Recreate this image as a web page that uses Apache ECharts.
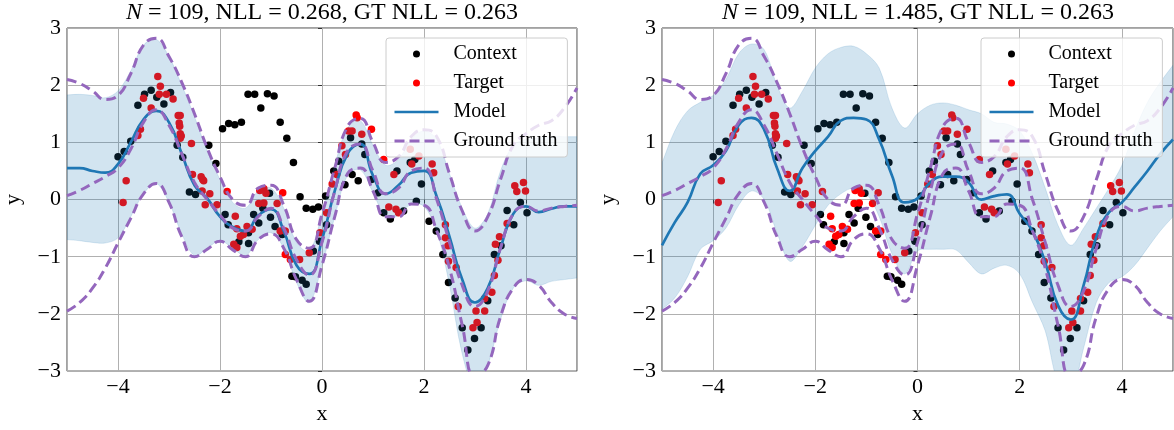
<!DOCTYPE html>
<html>
<head>
<meta charset="utf-8">
<script src="https://cdn.jsdelivr.net/npm/echarts@6/dist/echarts.min.js"></script>
<style>
  html, body { margin: 0; padding: 0; background: #fff; }
  #chart { width: 1174px; height: 430px; }
</style>
</head>
<body>
<div id="chart"></div>
<script>
const xGrid = [-5, -4.75, -4.5, -4.25, -4, -3.75, -3.5, -3.25, -3, -2.75, -2.5, -2.25, -2, -1.75, -1.5, -1.25, -1, -0.75, -0.5, -0.25,
  0, 0.25, 0.5, 0.75, 1, 1.25, 1.5, 1.75, 2, 2.25, 2.5, 2.75, 3, 3.25, 3.5, 3.75, 4, 4.25, 4.5, 4.75, 5];

// ground truth (same in both panels)
const gtMean = [0.07, 0.16, 0.28, 0.4, 0.55, 0.88, 1.35, 1.57, 1.3, 0.8, 0.3, 0.0, -0.27, -0.5, -0.55, -0.3, -0.15, -0.5, -1.05, -1.32,
  -0.75, 0.15, 0.85, 0.97, 0.5, 0.1, 0.2, 0.5, 0.55, 0.0, -0.75, -1.5, -1.87, -1.6, -0.85, -0.25, -0.12, -0.2, -0.15, -0.12, -0.1];
const gtUpper = [2.1, 2.03, 1.9, 1.75, 1.82, 2.2, 2.7, 2.82, 2.5, 2.05, 1.5, 0.9, 0.4, 0.0, -0.1, 0.2, 0.25, -0.1, -0.7, -0.85,
  -0.25, 0.55, 1.28, 1.42, 1.0, 0.65, 0.75, 1.1, 1.22, 1.1, 0.45, -0.2, -0.55, -0.3, 0.35, 0.95, 1.15, 1.3, 1.38, 1.6, 1.95];
const gtLower = [-1.95, -1.8, -1.55, -1.2, -0.76, -0.33, 0.1, 0.28, -0.05, -0.65, -1.0, -0.87, -0.73, -0.88, -1.0, -0.7, -0.6, -0.85, -1.4, -1.78,
  -1.15, -0.3, 0.45, 0.55, 0.15, -0.3, -0.3, -0.08, -0.1, -0.55, -1.2, -2.2, -3.1, -2.9, -2.05, -1.55, -1.4, -1.5, -1.8, -2.0, -2.08];

// left panel model
const leftModel = [0.55, 0.55, 0.5, 0.47, 0.62, 1.0, 1.4, 1.55, 1.35, 0.8, 0.25, 0.02, -0.3, -0.48, -0.55, -0.28, -0.17, -0.55, -1.15, -1.3,
  -0.7, 0.15, 0.8, 0.97, 0.42, 0.1, 0.25, 0.47, 0.5, 0.05, -0.65, -1.4, -1.8, -1.55, -0.85, -0.25, -0.12, -0.22, -0.16, -0.12, -0.12];
const leftUpper = [1.83, 1.84, 1.82, 1.78, 1.9, 2.25, 2.7, 2.8, 2.5, 2.0, 1.45, 0.85, 0.35, -0.05, -0.15, 0.15, 0.2, -0.15, -0.75, -0.9,
  -0.25, 0.6, 1.25, 1.38, 0.95, 0.6, 0.7, 1.05, 1.2, 1.05, 0.45, -0.15, -0.5, -0.25, 0.5, 0.95, 1.05, 1.08, 1.1, 1.1, 1.1];
const leftLower = [-0.7, -0.72, -0.75, -0.76, -0.67, -0.3, 0.1, 0.28, -0.05, -0.6, -0.98, -0.85, -0.72, -0.85, -0.98, -0.7, -0.58, -0.85, -1.45, -1.8,
  -1.15, -0.3, 0.42, 0.52, 0.12, -0.3, -0.28, -0.08, -0.12, -0.55, -1.5, -2.7, -3.3, -2.9, -2.1, -1.55, -1.42, -1.5, -1.43, -1.4, -1.37];

// right panel model
const rightModel = [-0.8, -0.4, -0.05, 0.45, 0.6, 0.85, 1.3, 1.43, 1.22, 0.55, 0.15, 0.55, 0.85, 1.1, 1.38, 1.43, 1.4, 1.05, 0.42, -0.05,
  0.02, 0.3, 0.4, 0.4, 0.3, 0.0, 0.06, 0.09, -0.25, -0.55, -1.1, -1.85, -2.1, -1.5, -0.65, -0.22, -0.05, 0.22, 0.5, 0.8, 1.05];
const rightUpper = [0.64, 1.2, 1.55, 1.7, 1.82, 2.1, 2.55, 2.72, 2.62, 2.0, 1.6, 1.9, 2.3, 2.55, 2.66, 2.68, 2.55, 2.3, 1.6, 1.25,
  1.5, 1.65, 1.69, 1.65, 1.57, 1.5, 1.35, 1.32, 1.2, 0.8, 0.2, -0.45, -0.8, -0.5, -0.15, 0.2, 0.6, 1.2, 1.7, 2.05, 2.35];
const rightLower = [-1.92, -1.72, -1.35, -0.87, -0.72, -0.5, -0.1, 0.15, 0.0, -0.58, -1.08, -0.82, -0.45, -0.1, 0.1, 0.2, 0.1, -0.3, -0.95, -1.3,
  -0.9, -0.87, -0.87, -0.88, -1.1, -1.3, -1.2, -1.15, -1.3, -1.8, -2.3, -3.2, -3.4, -2.6, -1.8, -1.45, -1.35, -1.15, -0.85, -0.55, -0.3];

const contextPts = [
  [-4.0, 0.75], [-3.88, 0.84], [-3.75, 1.02], [-3.61, 1.65], [-3.48, 1.84], [-3.35, 1.91], [-3.24, 1.79], [-3.1, 1.67], [-2.97, 1.87],
  [-2.84, 0.95], [-2.73, 0.74], [-2.6, 0.13], [-2.48, 0.09], [-2.22, 0.95], [-2.08, 0.63], [-1.95, 1.24], [-1.83, 1.33], [-1.71, 1.31],
  [-1.58, 1.35], [-1.45, 1.84], [-1.32, 1.84], [-1.2, 1.6], [-1.07, 1.85], [-0.94, 1.81], [-0.82, 1.35], [-0.69, 1.07], [-0.56, 0.65],
  [-0.43, 0.05], [-1.03, 0.11], [-1.9, -0.26], [-1.84, -0.44], [-1.63, -0.74], [-1.44, -0.77], [-1.44, -0.58], [-1.34, -0.26],
  [-1.24, -0.41], [-1.16, -0.15], [-1.01, -0.31], [-0.92, -0.47], [-0.78, -0.61], [-0.31, -0.15], [-0.18, -0.17], [-0.07, -0.13],
  [-0.59, -1.34], [-0.52, -1.35], [-0.39, -1.41], [-0.31, -1.48], [-0.17, -0.9], [-0.05, -0.73], [0.09, -0.44],
  [0.07, 0.06], [0.23, 0.5], [0.33, 0.67], [0.45, 0.26], [0.59, 0.44], [0.71, 0.33], [0.84, 0.79], [0.56, 1.08], [0.78, 0.97],
  [0.97, 0.35], [1.1, 0.12], [1.47, 0.5], [1.73, 0.65], [1.82, 0.7], [1.95, 0.27],
  [1.21, -0.23], [1.34, -0.34], [1.6, -0.2], [1.85, -0.03], [2.1, -0.38], [2.24, -0.55], [2.37, -0.96], [2.48, -1.45], [2.61, -1.72],
  [2.75, -2.24], [2.86, -2.63], [2.99, -2.43], [3.12, -2.24], [3.25, -1.77], [3.38, -0.96], [3.51, -0.81], [3.63, -0.19],
  [3.76, -0.44], [3.89, -0.05], [4.02, -0.23]
];
const targetPts = [
  [-3.9, -0.05], [-3.84, 0.33], [-3.61, 1.12], [-3.56, 1.23], [-3.5, 1.77], [-3.35, 1.6], [-3.22, 2.15], [-3.17, 1.98], [-3.19, 1.84],
  [-3.05, 1.84], [-2.92, 1.76], [-2.82, 1.47], [-2.78, 1.47], [-2.8, 1.34], [-2.79, 1.28], [-2.78, 1.15], [-2.76, 1.11], [-2.78, 1.07],
  [-2.56, 0.98], [-2.54, 0.44], [-2.37, 0.4], [-2.34, 0.35], [-2.32, 0.33], [-2.35, 0.15], [-2.2, 0.1], [-1.86, 0.14], [-1.22, 0.16],
  [-1.14, 0.19], [-1.1, 0.11], [-0.77, 0.12], [-2.29, -0.09], [-2.06, -0.09], [-1.7, -0.29], [-1.67, -0.51], [-1.6, -0.64],
  [-1.54, -0.61], [-1.47, -0.47], [-1.37, -0.52], [-1.73, -0.78], [-1.67, -0.84], [-1.24, -0.07], [-1.14, -0.06], [-0.88, -0.07],
  [-0.82, -0.55], [-0.72, -0.55], [-0.72, -0.96], [-0.62, -1.05], [-0.44, -1.05], [-0.25, -0.93], [-0.04, -0.58], [0.09, -0.23],
  [0.67, 1.48], [0.69, 1.43], [0.52, 1.2], [0.59, 1.2], [0.78, 1.14], [0.97, 1.23], [0.39, 0.94], [0.46, 0.79], [0.29, 0.44],
  [0.2, 0.27], [1.21, 0.7], [1.41, 0.44], [1.76, 0.62], [1.9, 0.76], [2.16, 0.62], [2.19, 0.47], [1.73, 0.88], [3.78, 0.24],
  [3.82, 0.14], [3.95, 0.3], [3.99, 0.15], [1.31, -0.13], [1.45, -0.17], [1.5, -0.23], [2.42, -0.44], [2.42, -0.67], [2.47, -0.81],
  [2.48, -1.08], [2.63, -1.19], [2.67, -1.87], [3.02, -1.95], [3.19, -1.95], [3.19, -1.73], [3.33, -1.62], [3.38, -1.33],
  [3.45, -1.06], [3.4, -0.78], [3.48, -0.65], [3.63, -0.42], [3.04, -2.15], [2.96, -2.24]
];

const panelN = ['109', '109'];
const panelNLL = ['0.268', '1.485'];
const gtNLL = '0.263';
const legendNames = ['Context', 'Target', 'Model', 'Ground truth'];

const SERIF = '"Liberation Serif", "DejaVu Serif", serif';
const BLUE = '#1f77b4';
const PURPLE = '#9467bd';

const pairs = (ys) => xGrid.map((x, k) => [x, ys[k]]);

// shaded uncertainty band as one polygon: upper edge left->right, lower edge right->left
function bandSeries(i, upper, lower) {
  return {
    type: 'custom', xAxisIndex: i, yAxisIndex: i, silent: true, animation: false, clip: true, z: 2,
    data: xGrid.map((x, k) => [x, lower[k], upper[k]]),
    encode: { x: 0, y: [1, 2] },
    renderItem: (params, api) => {
      if (params.dataIndex !== 0) return null;
      const top = xGrid.map((x, k) => api.coord([x, upper[k]]));
      const bot = xGrid.map((x, k) => api.coord([x, lower[k]])).reverse();
      // repeat the corner points so the closing edges stay straight
      const pts = [top[0], ...top, top[top.length - 1], bot[0], ...bot, bot[bot.length - 1]];
      return {
        type: 'polygon',
        shape: { points: pts, smooth: 0.35 },
        style: { fill: 'rgba(31,119,180,0.2)', stroke: 'rgba(31,119,180,0.15)', lineWidth: 1 }
      };
    }
  };
}

function panelSeries(i, model, upper, lower) {
  const ax = { xAxisIndex: i, yAxisIndex: i, animation: false, silent: true };
  const dashed = (ys) => ({
    ...ax, type: 'line', name: 'Ground truth', data: pairs(ys), smooth: 0.5, showSymbol: false, symbol: 'none', z: 5,
    lineStyle: { color: PURPLE, width: 3, type: [10, 5] }, itemStyle: { color: PURPLE }
  });
  return [
    { ...ax, type: 'scatter', name: 'Context', data: contextPts, symbolSize: 7.5, itemStyle: { color: '#000', opacity: 1 }, z: 1 },
    { ...ax, type: 'scatter', name: 'Target', data: targetPts, symbolSize: 7.5, itemStyle: { color: '#ff0000', opacity: 1 }, z: 1 },
    bandSeries(i, upper, lower),
    {
      ...ax, type: 'line', name: 'Model', data: pairs(model), smooth: 0.5, showSymbol: false, symbol: 'none', z: 4,
      lineStyle: { color: BLUE, width: 2.7 }, itemStyle: { color: BLUE }
    },
    dashed(gtUpper), dashed(gtMean), dashed(gtLower)
  ];
}

const minus = (v) => String(v).replace('-', '\u2212');

function xAxis(i) {
  return {
    gridIndex: i, type: 'value', min: -5, max: 5,
    name: 'x', nameLocation: 'middle', nameGap: 30,
    nameTextStyle: { fontFamily: SERIF, fontSize: 22, color: '#000' },
    axisLine: { show: false },
    axisTick: { show: true, length: 4, lineStyle: { color: '#333' } },
    axisLabel: { showMinLabel: false, showMaxLabel: false, margin: 5, fontFamily: SERIF, fontSize: 22, color: '#000', formatter: minus },
    splitLine: { show: true, lineStyle: { color: '#b0b0b0', width: 1 } }
  };
}
function yAxis(i) {
  return {
    gridIndex: i, type: 'value', min: -3, max: 3, interval: 1,
    name: 'y', nameLocation: 'middle', nameGap: 43, nameRotate: 90,
    nameTextStyle: { fontFamily: SERIF, fontSize: 22, color: '#000' },
    axisLine: { show: false },
    axisTick: { show: true, length: 4, lineStyle: { color: '#333' } },
    axisLabel: { margin: 6, fontFamily: SERIF, fontSize: 22, color: '#000', formatter: minus },
    splitLine: { show: true, lineStyle: { color: '#b0b0b0', width: 1 } }
  };
}
function legend(left) {
  return {
    data: [
      { name: 'Context' },
      { name: 'Target' },
      { name: 'Model', itemStyle: { opacity: 0 } },
      { name: 'Ground truth', itemStyle: { opacity: 0 } }
    ],
    left, top: 38, orient: 'vertical', z: 10,
    backgroundColor: 'rgba(255,255,255,0.8)', borderColor: '#cccccc', borderWidth: 1, borderRadius: 3,
    padding: [5, 10, 5, 7], itemGap: 7, itemWidth: 44, itemHeight: 7,
    lineStyle: { width: 'inherit' },
    formatter: (n) => '  ' + n,
    textStyle: { fontFamily: SERIF, fontSize: 20, color: '#000', lineHeight: 22 },
    selectedMode: false
  };
}
function title(i, centerX) {
  return {
    text: '{i|N} = ' + panelN[i] + ', NLL = ' + panelNLL[i] + ', GT NLL = ' + gtNLL,
    left: centerX, top: 1, textAlign: 'center', padding: 0,
    textStyle: {
      fontFamily: SERIF, fontSize: 24, fontWeight: 'normal', color: '#000',
      rich: { i: { fontFamily: SERIF, fontSize: 24, fontStyle: 'italic', color: '#000' } }
    }
  };
}

const chart = echarts.init(document.getElementById('chart'), null, { renderer: 'canvas' });
chart.setOption({
  animation: false,
  backgroundColor: '#fff',
  title: [title(0, 322), title(1, 918)],
  legend: [legend(386), legend(981)],
  grid: [
    { left: 67, top: 28, width: 510, height: 344, show: true, borderColor: '#444', borderWidth: 1, backgroundColor: 'transparent' },
    { left: 662, top: 28, width: 511, height: 344, show: true, borderColor: '#444', borderWidth: 1, backgroundColor: 'transparent' }
  ],
  xAxis: [xAxis(0), xAxis(1)],
  yAxis: [yAxis(0), yAxis(1)],
  series: [
    ...panelSeries(0, leftModel, leftUpper, leftLower),
    ...panelSeries(1, rightModel, rightUpper, rightLower)
  ]
});
</script>
</body>
</html>
